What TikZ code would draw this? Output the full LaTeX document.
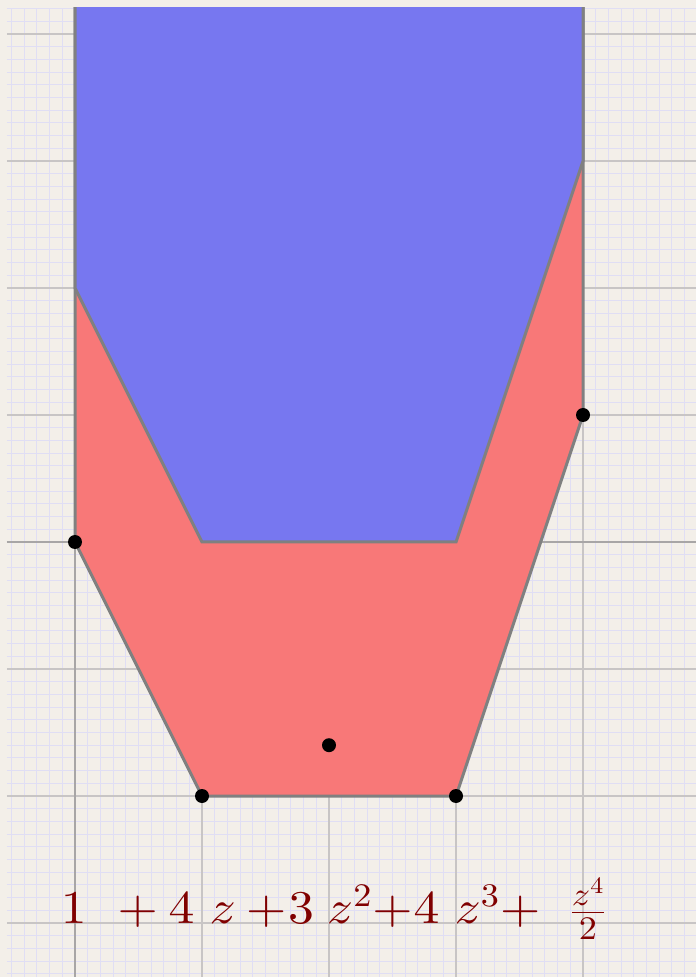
\RequirePackage{fix-cm}
\documentclass[tikz,border=0pt]{standalone}
\usepackage{xcolor}
\DeclareFontFamily{OT1}{cmrten}{\hyphenchar\font45 }
\DeclareFontShape{OT1}{cmrten}{m}{n}{<-> cmr10}{}
\DeclareFontFamily{OML}{cmmten}{\skewchar\font127 }
\DeclareFontShape{OML}{cmmten}{m}{it}{<-> cmmi10}{}
\DeclareSymbolFont{operators}{OT1}{cmrten}{m}{n}
\DeclareSymbolFont{letters}{OML}{cmmten}{m}{it}
\DeclareMathSizes{47}{47}{32.9}{23.5}
\definecolor{bgcol}{HTML}{F3EFE9}
\definecolor{finecol}{HTML}{E0DEF4}
\definecolor{majorcol}{HTML}{C8C5C5}
\definecolor{axiscol}{HTML}{A8A6A6}
\definecolor{redfill}{HTML}{F87878}
\definecolor{bluefill}{HTML}{7777F0}
\definecolor{edgecol}{HTML}{808080}
\definecolor{textcol}{HTML}{800000}
\begin{document}
\begin{tikzpicture}[x=127pt,y=127pt,
  finegrid/.style={draw=finecol,line width=0.9pt},
  majorgrid/.style={draw=majorcol,line width=1.1pt},
  axisline/.style={draw=axiscol,line width=1.4pt},
  region/.style={draw=edgecol,line width=3pt,line join=miter},
  dot/.style={fill=black}]
\useasboundingbox (-75pt,-435pt) rectangle (621pt,542pt);
\fill[bgcol] (-75pt,-435pt) rectangle (621pt,542pt);
\begin{scope}
  \clip (-68pt,-435pt) rectangle (621pt,534pt);
  \draw[finegrid] (-68pt,-435pt) grid[step=12.7pt] (621pt,534pt);
  \draw[majorgrid] (-68pt,-435pt) grid[step=127pt] (621pt,534pt);
  \draw[axisline] (-68pt,0) -- (621pt,0);
  \draw[axisline] (0,-435pt) -- (0,534pt);
  \filldraw[region,fill=redfill] (0,0) -- (1,-2) -- (3,-2) -- (4,1) -- (4,5) -- (0,5) -- cycle;
  \filldraw[region,fill=bluefill] (0,2) -- (1,0) -- (3,0) -- (4,3) -- (4,5) -- (0,5) -- cycle;
\end{scope}
\coordinate (p1) at (0,0);
\coordinate (p2) at (4,1);
\coordinate (p3) at (1,-2);
\coordinate (p4) at (3,-2);
\coordinate (p5) at (2,-1.6);
\foreach \p in {p1,p2,p3,p4,p5} \fill[dot] (\p) circle (7pt);
\node[anchor=base west,inner sep=0pt,text=textcol,xscale=1.1,transform shape,
      font=\fontsize{47}{52}\selectfont] (poly) at (-14.3pt,-381.5pt)
  {$1\kern28.2pt{+}\kern9.8pt4\kern13.7pt z\kern9.3pt{+}\kern1.5pt3\kern11.8pt z^2\kern0.4pt{+}\kern1.1pt4\kern13.7pt z^3\kern0.5pt{+}\kern27.5pt\frac{z^4}{2}$};
\end{tikzpicture}
\end{document}
